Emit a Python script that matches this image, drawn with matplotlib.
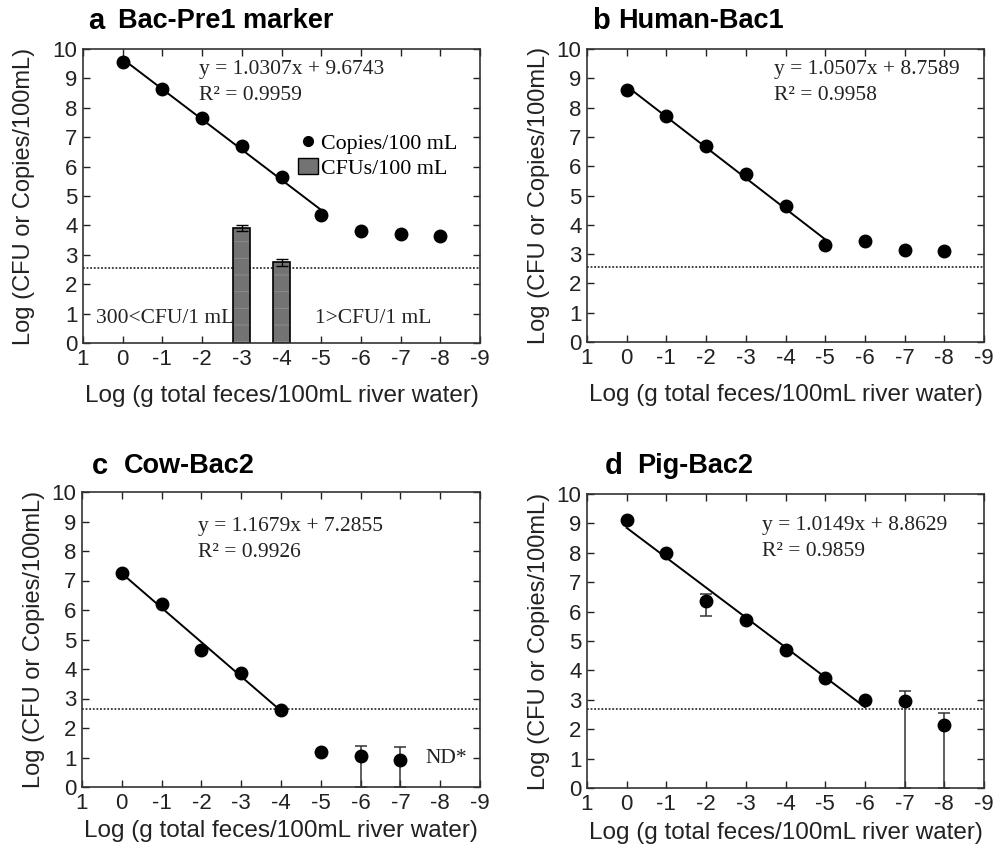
import numpy as np
import matplotlib.pyplot as plt
from matplotlib.lines import Line2D
from matplotlib.patches import Patch

plt.rcParams['font.family'] = 'Liberation Sans'
plt.rcParams['axes.unicode_minus'] = False
plt.rcParams['hatch.linewidth'] = 0.7

# x = log dilution of feces
x_all = [0, -1, -2, -3, -4, -5, -6, -7, -8]

# a  Bac-Pre1 marker
a_copies = [9.55, 8.65, 7.65, 6.7, 5.65, 4.35, 3.8, 3.7, 3.65]
a_fit_n = 6
a_bar_x = [-3, -4]
a_bar_h = [3.9, 2.75]
a_bar_err = [0.1, 0.12]
a_lod = 2.55
a_eq = ['y = 1.0307x + 9.6743', 'R² = 0.9959']

# b  Human-Bac1
b_copies = [8.6, 7.7, 6.7, 5.75, 4.65, 3.3, 3.45, 3.15, 3.1]
b_fit_n = 6
b_lod = 2.55
b_eq = ['y = 1.0507x + 8.7589', 'R² = 0.9958']

# c  Cow-Bac2
c_x = [0, -1, -2, -3, -4, -5, -6, -7]
c_copies = [7.25, 6.2, 4.65, 3.85, 2.6, 1.2, 1.05, 0.9]
c_err_lo = [0, 0, 0, 0, 0, 0, 1.05, 0.9]
c_err_hi = [0, 0, 0, 0, 0, 0, 0.35, 0.45]
c_fit_n = 5
c_lod = 2.65
c_eq = ['y = 1.1679x + 7.2855', 'R² = 0.9926']

# d  Pig-Bac2
d_copies = [9.1, 8.0, 6.35, 5.7, 4.7, 3.75, 3.0, 2.95, 2.15]
d_err_lo = [0, 0, 0.5, 0, 0, 0, 0, 2.95, 2.15]
d_err_hi = [0, 0, 0.25, 0, 0, 0, 0, 0.35, 0.4]
d_fit_n = 7
d_lod = 2.7
d_eq = ['y = 1.0149x + 8.8629', 'R² = 0.9859']

xlab = 'Log (g total feces/100mL river water)'
ylab = 'Log (CFU or Copies/100mL)'
serif = 'Liberation Serif'
txt_size = 15.5
bar_grey = '#737373'
hatch_grey = '#8c8c8c'

fig = plt.figure(figsize=(10.03, 8.49), dpi=100)
W, H = 1003, 849


def make_ax(l, t, r, b):
    return fig.add_axes([l / W, 1 - b / H, (r - l) / W, (b - t) / H])


def style(ax, xpad, ypad):
    ax.set_xlim(1, -9)
    ax.set_ylim(0, 10)
    ax.set_xticks(range(1, -10, -1))
    ax.set_yticks(range(0, 11))
    ax.tick_params(direction='in', length=5, width=1, top=True, right=True,
                   labelsize=16, pad=4, colors='#222222')
    for s in ax.spines.values():
        s.set_linewidth(1.2)
        s.set_color('#333333')
    ax.set_xlabel(xlab, fontsize=17.5, labelpad=xpad, color='#222222')
    ax.set_ylabel(ylab, fontsize=17, labelpad=ypad, color='#222222')


def draw(ax, x, y, n, lod, eq, ex, ey, err=None):
    ax.axhline(lod, color='#333333', ls=(0, (1, 1)), lw=1.3, zorder=1)
    k, c0 = np.polyfit(x[:n], y[:n], 1)
    xs = np.array([x[0], x[n - 1]])
    ax.plot(xs, k * xs + c0, color='black', lw=1.4, zorder=2)
    if err is not None:
        ax.errorbar(x, y, yerr=err, fmt='none', ecolor='#333333',
                    elinewidth=1.1, capsize=4, capthick=1.1, zorder=2)
    ax.plot(x, y, 'o', color='black', ms=9, zorder=3)
    ax.text(ex, ey, eq[0], fontsize=txt_size, family=serif,
            va='center', color='#222222')
    ax.text(ex, ey - 0.88, eq[1], fontsize=txt_size, family=serif,
            va='center', color='#222222')


def panel_title(px, py, letter, name, npx):
    fig.text(px / W, 1 - py / H, letter, fontsize=21, fontweight='bold', va='center')
    fig.text(npx / W, 1 - py / H, name, fontsize=19.5, fontweight='bold', va='center')


# a
ax = make_ax(83, 49, 480, 343)
style(ax, 11, 13)
# faint stripes inside, black outline on top
ax.bar(a_bar_x, a_bar_h, width=0.42, color=bar_grey, edgecolor=hatch_grey,
       linewidth=0, hatch='-', zorder=2)
ax.bar(a_bar_x, a_bar_h, width=0.42, fill=False, edgecolor='black',
       linewidth=1.2, zorder=2)
ax.errorbar(a_bar_x, a_bar_h, yerr=a_bar_err, fmt='none', ecolor='black',
            elinewidth=1, capsize=4, zorder=3)
draw(ax, x_all, a_copies, a_fit_n, a_lod, a_eq, -1.92, 9.3)
ax.text(0.68, 0.85, '300<CFU/1 mL', fontsize=txt_size, family=serif,
        va='center', color='#222222')
ax.text(-4.85, 0.85, '1>CFU/1 mL', fontsize=txt_size, family=serif,
        va='center', color='#222222')
handles = [Line2D([], [], marker='o', ls='none', color='black', ms=7),
           Patch(facecolor=bar_grey, edgecolor='black')]
ax.legend(handles, ['Copies/100 mL', 'CFUs/100 mL'], loc='upper left',
          bbox_to_anchor=(-4.42, 7.13), bbox_transform=ax.transData,
          frameon=False, prop={'family': serif, 'size': 15.8},
          handlelength=0.9, handleheight=0.8, handletextpad=0.15,
          borderpad=0, borderaxespad=0, labelspacing=0.15)
panel_title(88, 21, 'a', 'Bac-Pre1 marker', 118)

# b
ax = make_ax(587, 49, 984, 342)
style(ax, 11, 5)
draw(ax, x_all, b_copies, b_fit_n, b_lod, b_eq, -3.71, 9.3)
panel_title(592, 21, 'b', 'Human-Bac1', 618)

# c
ax = make_ax(82, 492, 480, 787)
style(ax, 5, 5)
draw(ax, c_x, c_copies, c_fit_n, c_lod, c_eq, -1.92, 8.82,
     err=[c_err_lo, c_err_hi])
ax.text(-7.62, 0.95, 'ND*', fontsize=txt_size, family=serif,
        va='center', color='#222222')
panel_title(92, 466, 'c', 'Cow-Bac2', 124)

# d
ax = make_ax(587, 494, 984, 788)
style(ax, 5, 5)
draw(ax, x_all, d_copies, d_fit_n, d_lod, d_eq, -3.41, 8.92,
     err=[d_err_lo, d_err_hi])
panel_title(605, 466, 'd', 'Pig-Bac2', 637)

fig.savefig('out.png', dpi=100)
